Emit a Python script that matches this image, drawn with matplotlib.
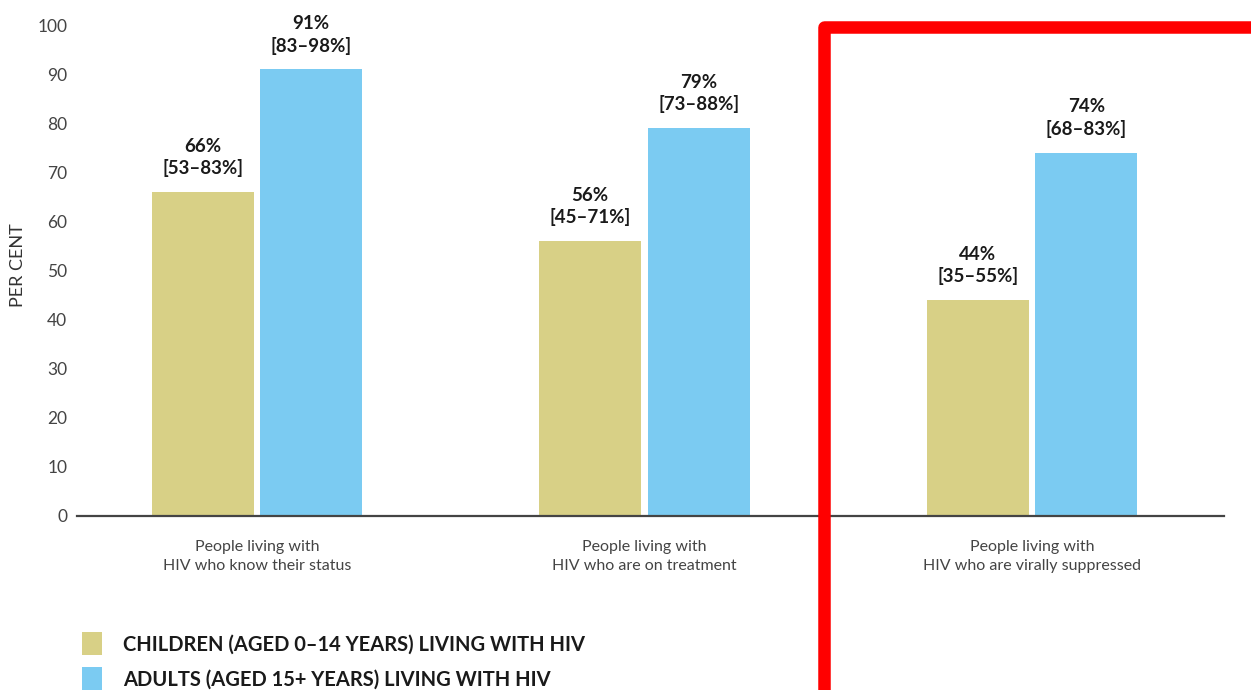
import numpy as np
import matplotlib.pyplot as plt
from matplotlib.patches import Rectangle

plt.rcParams['font.family'] = ['Lato', 'DejaVu Sans']

categories = ['People living with\nHIV who know their status',
              'People living with\nHIV who are on treatment',
              'People living with\nHIV who are virally suppressed']
children = [66, 56, 44]
children_range = ['[53–83%]', '[45–71%]', '[35–55%]']
adults = [91, 79, 74]
adults_range = ['[83–98%]', '[73–88%]', '[68–83%]']
series_names = ['CHILDREN (AGED 0–14 YEARS) LIVING WITH HIV',
                'ADULTS (AGED 15+ YEARS) LIVING WITH HIV']
yticks = list(range(0, 101, 10))

khaki = '#D8D086'
blue = '#7BCBF2'

W, H = 1251, 690
fig = plt.figure(figsize=(W / 100, H / 100), dpi=100)
ax = fig.add_axes([77 / W, 1 - 516 / H, (1224 - 77) / W, (516 - 25) / H])

x = np.arange(len(categories))
bw = 0.263
off = 0.14
b1 = ax.bar(x - off, children, bw, color=khaki, label=series_names[0])
b2 = ax.bar(x + off, adults, bw, color=blue, label=series_names[1])

for bars, vals, rngs in [(b1, children, children_range), (b2, adults, adults_range)]:
    for b, v, r in zip(bars, vals, rngs):
        cx = b.get_x() + b.get_width() / 2
        ax.annotate(f'{v}%', (cx, v), xytext=(0, 33), textcoords='offset points',
                    ha='center', va='center', fontsize=13.5, fontweight='bold', color='#1a1a1a')
        ax.annotate(r, (cx, v), xytext=(0, 17), textcoords='offset points',
                    ha='center', va='center', fontsize=13.5, fontweight='bold', color='#1a1a1a')

ax.set_xlim(-0.4645, 2.4955)
ax.set_ylim(0, 100)
ax.set_yticks(yticks)
ax.set_xticks(x)
ax.set_xticklabels(categories, fontsize=11.5, color='#444444', linespacing=1.45)
ax.tick_params(axis='both', length=0)
ax.tick_params(axis='y', labelsize=12.5, labelcolor='#444444', pad=7)
ax.tick_params(axis='x', pad=17)
for s in ['top', 'right', 'left']:
    ax.spines[s].set_visible(False)
ax.spines['bottom'].set_color('#444444')
ax.spines['bottom'].set_linewidth(1.6)

fig.text(18 / W, 1 - 265 / H, 'PER CENT', rotation=90, ha='center', va='center',
         fontsize=13, color='#333333')

fig.legend(handles=[b1, b2], labels=series_names, loc='upper left',
           bbox_to_anchor=(82 / W, 1 - 632 / H), frameon=False,
           borderpad=0, borderaxespad=0,
           prop={'size': 14.5, 'weight': 'bold'}, handlelength=1.0, handleheight=1.4,
           handletextpad=1.05, labelspacing=0.6, labelcolor='#1a1a1a')

# red highlight box around the last group
fig.patches.append(Rectangle((824 / W, -0.05), (1256 - 824) / W, 1.05 - 27 / H,
                             transform=fig.transFigure, fill=False, edgecolor='#FF0000',
                             linewidth=9, joinstyle='round', zorder=10))

fig.savefig('out.png', dpi=100)
